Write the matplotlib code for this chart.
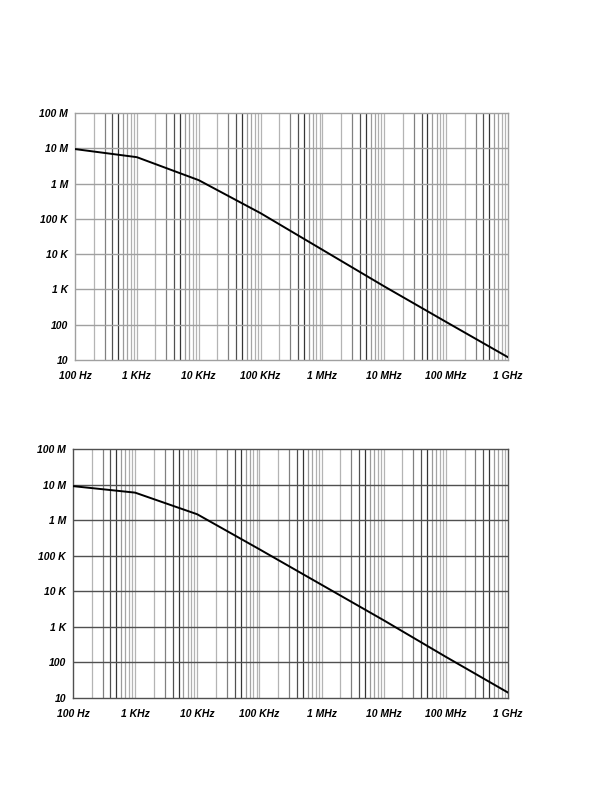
import matplotlib.pyplot as plt

# frequency points (Hz) and values
freq = [1e2, 1e3, 1e4, 1e5, 1e6, 1e7, 1e8, 1e9]
top_vals = [9.5e6, 5.6e6, 1.25e6, 1.45e5, 1.33e4, 1.22e3, 1.2e2, 12]
bottom_vals = [9.0e6, 5.9e6, 1.45e6, 1.5e5, 1.5e4, 1.5e3, 1.4e2, 13.8]

x_ticks = [1e2, 1e3, 1e4, 1e5, 1e6, 1e7, 1e8, 1e9]
x_labels = ["100 Hz", "1 KHz", "10 KHz", "100 KHz", "1 MHz", "10 MHz", "100 MHz", "1 GHz"]
y_ticks = [1e1, 1e2, 1e3, 1e4, 1e5, 1e6, 1e7, 1e8]
y_labels = ["10", "100", "1 K", "10 K", "100 K", "1 M", "10 M", "100 M"]

font = dict(family="Liberation Sans", weight="bold", style="italic", size=7.5)

# shade of each vertical line by its multiplier inside a decade (scan look)
shade = {1: "#b4b4b4", 2: "#b4b4b4", 3: "#808080", 4: "#505050", 5: "#353535",
         6: "#9a9a9a", 7: "#a4a4a4", 8: "#b0b0b0", 9: "#b4b4b4"}


def draw(ax, vals, hcolor, edge):
    ax.set_xscale("log")
    ax.set_yscale("log")
    ax.set_xlim(1e2, 1e9)
    ax.set_ylim(1e1, 1e8)
    ax.minorticks_off()

    ax.set_xticks(x_ticks)
    ax.set_xticklabels(x_labels, fontdict=font)
    ax.set_yticks(y_ticks)
    ax.set_yticklabels(y_labels, fontdict=font)
    ax.tick_params(which="both", length=0)
    ax.tick_params(axis="x", pad=8)
    ax.tick_params(axis="y", pad=5)

    for d in range(2, 9):
        for m in range(1, 10):
            if d == 2 and m == 1:
                continue
            ax.axvline(m * 10 ** d, color=shade[m], linewidth=0.9, zorder=1)
    for y in y_ticks[1:-1]:
        ax.axhline(y, color=hcolor, linewidth=1.0, zorder=2)
    for s in ax.spines.values():
        s.set_color(edge)
        s.set_linewidth(1.0)

    ax.plot(freq, vals, color="black", linewidth=1.4, zorder=5)


fig = plt.figure(figsize=(6.03, 7.93), dpi=100)
ax1 = fig.add_axes([0.1244, 0.546, 0.718, 0.3115])
ax2 = fig.add_axes([0.121, 0.1204, 0.7214, 0.3134])
draw(ax1, top_vals, "#a0a0a0", "#a0a0a0")
draw(ax2, bottom_vals, "#505050", "#505050")

fig.savefig("out.png", dpi=100)
